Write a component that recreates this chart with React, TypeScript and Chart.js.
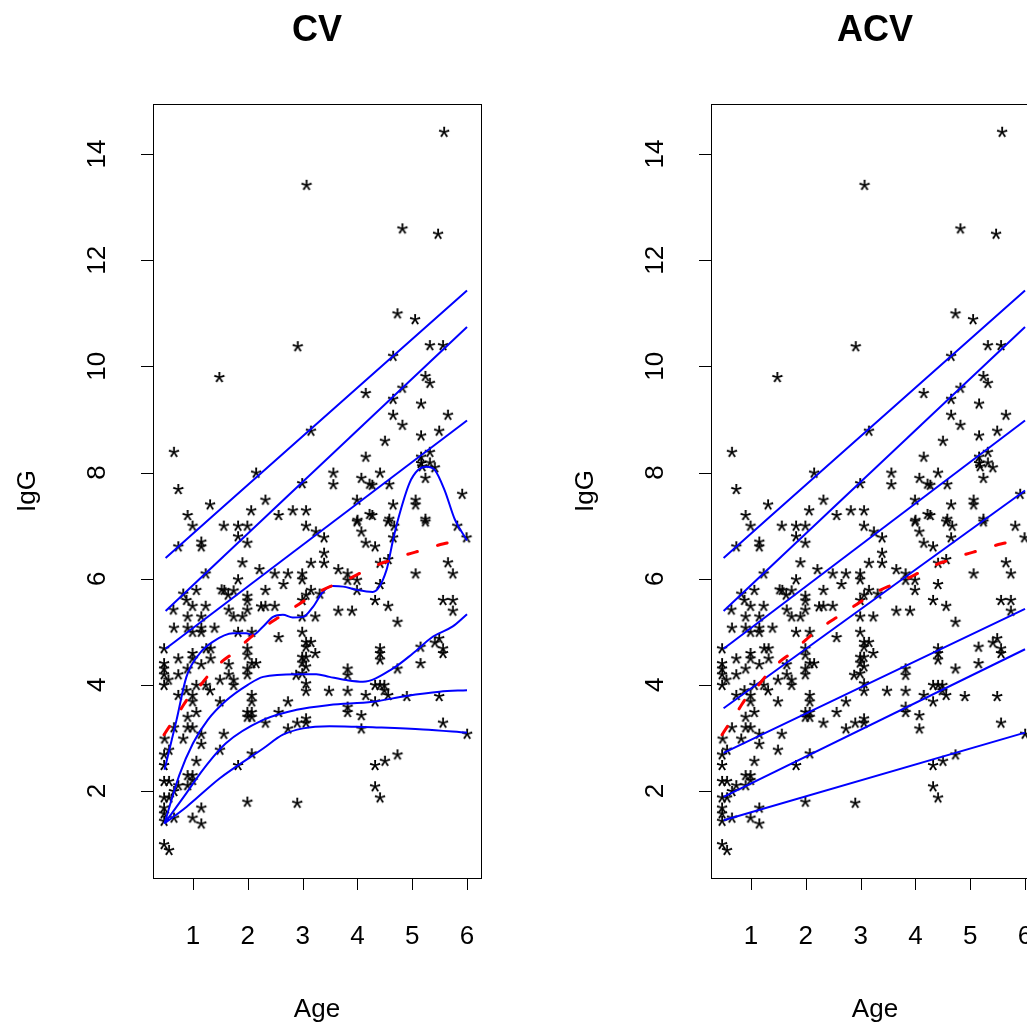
import React, { useEffect, useRef } from "react";
import { Chart, registerables } from "chart.js";
Chart.register(...registerables);

// ---------- data ----------
const AGE = [
  5.58, 3.07, 4.82, 5.47, 2.91, 4.73, 5.05, 1.48,
  0.65, 0.73, 0.9, 1.31, 2.15, 2.06,
  4.15, 3.15, 4.15, 3.56, 3.56, 4.07, 4.22, 2.99, 2.32, 2.56, 2.82, 3.06, 3.99, 4.0, 4.22,
  4.65, 5.32, 5.56, 5.24, 5.32, 4.82, 4.65, 5.16, 4.65, 5.65, 4.82, 5.49, 4.5, 5.16, 5.16, 5.32, 5.16, 5.32, 5.41, 5.24, 5.18, 4.41, 4.27, 4.58, 5.91, 5.06, 5.06, 4.65, 4.27, 4.58, 5.24,
  0.99, 1.56, 1.82, 1.99, 1.15, 1.15, 0.73, 1.82, 1.99, 1.9, 2.21, 1.23, 1.82,
  0.82, 1.06, 1.52, 1.57, 1.74, 1.64, 1.99, 1.99, 0.88, 0.99, 1.23, 0.64, 0.9, 1.15, 1.65, 1.74, 1.9, 1.99, 2.24,
  0.65, 0.9, 1.15, 1.39, 0.99, 1.15, 1.82, 2.07,
  0.47, 1.24, 1.32, 1.99, 1.99, 0.99, 0.99, 0.73, 0.47, 0.47, 1.32, 1.15, 1.65, 2.07, 2.15, 1.99,
  0.9, 0.73, 0.47, 0.55, 0.47, 1.65, 1.74, 1.74, 1.49, 1.99, 1.23, 1.06, 1.31, 0.88, 0.73, 0.99, 0.99, 1.49, 2.07, 2.07, 1.06, 1.99, 2.07, 1.99, 2.07, 0.9,
  3.06, 3.24, 3.39, 3.99, 4.07, 4.15, 3.39, 3.39, 3.15, 3.65, 3.82, 3.82, 3.99, 2.49, 2.73, 2.99, 2.99, 2.65, 2.32, 3.15, 3.99, 3.06, 3.31, 2.99, 2.32, 2.49, 3.65, 3.9, 2.99, 3.23,
  2.56, 2.99, 3.06, 3.15, 3.06, 3.23, 2.99, 3.06, 2.99, 3.06, 2.99, 2.88, 3.06, 3.06, 3.82, 3.82, 3.48, 3.82, 4.15, 2.73, 2.56, 3.82, 3.82, 4.07, 3.06,
  4.56, 4.67, 5.24, 5.82, 5.99, 4.65, 4.32, 4.41, 4.56, 5.65, 5.74, 5.06, 4.41, 4.32, 4.56, 5.56, 5.74, 5.74, 4.73, 4.41, 4.41, 4.41, 5.15, 5.41, 5.49, 5.56, 5.56, 5.15, 4.73, 4.32, 4.41, 4.49, 4.49, 4.56, 4.9, 5.49, 4.32,
  0.65, 0.9, 0.99, 1.15, 1.56, 0.82, 0.48, 1.15, 1.49, 0.56, 0.47, 1.06, 0.47, 2.07, 1.82, 0.9, 0.99, 0.99, 0.47, 0.56, 0.73, 0.9, 0.65, 0.47, 0.56, 1.99, 1.15, 0.47, 0.47, 0.65, 0.99, 1.15, 0.47, 0.47, 0.56,
  2.32, 2.73, 2.9, 3.06, 4.07, 2.9, 4.32, 5.56, 6.0, 4.73, 4.5, 4.41, 4.32,
];
const IGG = [
  14.42, 13.42, 12.6, 12.5, 10.38, 11.0, 10.89, 9.8,
  8.39, 7.69, 7.2, 7.4, 8.0, 7.29,
  9.5, 8.79, 8.3, 8.0, 7.78, 7.9, 7.79, 7.8, 7.49, 7.2, 7.29, 7.29, 7.49, 7.11, 7.22,
  10.2, 10.4, 10.4, 9.82, 9.69, 9.6, 9.39, 9.3, 9.09, 9.09, 8.9, 8.79, 8.6, 8.7, 8.3, 8.39, 8.18, 8.19, 8.1, 7.9, 8.12, 8.0, 7.77, 7.78, 7.6, 7.49, 7.4, 7.4, 7.2, 7.13, 7.13,
  7.0, 7.0, 7.0, 7.0, 6.7, 6.61, 6.61, 6.8, 6.68, 6.31, 6.18, 6.1, 5.99,
  5.72, 5.79, 5.8, 5.79, 5.78, 5.7, 5.68, 5.59, 5.6, 5.49, 5.49, 5.42, 5.29, 5.29, 5.42, 5.29, 5.29, 5.42, 5.48,
  5.08, 5.08, 5.08, 5.08, 5.0, 5.0, 5.0, 5.0,
  4.69, 4.69, 4.69, 4.69, 4.57, 4.6, 4.5, 4.5, 4.41, 4.31, 4.5, 4.39, 4.39, 4.41, 4.41, 4.31,
  4.31, 4.2, 4.2, 4.1, 4.0, 4.2, 4.1, 4.0, 4.1, 4.2, 4.0, 4.0, 3.9, 3.9, 3.81, 3.81, 3.69, 3.69, 3.81, 3.69, 3.49, 3.49, 3.49, 3.4, 3.4, 3.4,
  7.0, 6.89, 6.78, 7.08, 6.89, 6.68, 6.49, 6.3, 6.3, 6.18, 6.1, 5.98, 5.98, 6.1, 6.1, 6.1, 5.99, 5.9, 5.79, 5.79, 5.79, 5.7, 5.72, 5.6, 5.49, 5.49, 5.4, 5.4, 5.29, 5.29,
  4.9, 5.0, 4.81, 4.81, 4.72, 4.6, 4.53, 4.53, 4.42, 4.35, 4.22, 4.19, 4.03, 3.89, 4.31, 4.19, 3.89, 3.89, 3.81, 3.69, 3.49, 3.59, 3.49, 3.43, 3.37,
  7.08, 7.0, 7.08, 7.0, 6.78, 6.78, 6.61, 6.3, 6.37, 6.31, 6.1, 6.1, 5.9, 5.6, 5.49, 5.6, 5.6, 5.4, 5.19, 4.69, 4.6, 4.48, 4.72, 4.8, 4.88, 4.69, 4.6, 4.41, 4.31, 4.0, 4.0, 4.0, 3.9, 3.81, 3.79, 3.79, 3.69,
  3.2, 3.2, 3.2, 3.08, 3.08, 2.99, 2.99, 2.89, 2.78, 2.78, 2.69, 2.57, 2.49, 2.71, 2.49, 2.3, 2.3, 2.21, 2.19, 2.19, 2.11, 2.11, 2.0, 1.88, 1.88, 1.8, 1.69, 1.69, 1.58, 1.5, 1.5, 1.39, 1.44, 1.0, 0.89,
  3.29, 3.18, 3.29, 3.29, 3.18, 1.78, 2.49, 3.29, 3.08, 2.69, 2.57, 1.88, 2.09,
];

const X_TICKS = [1, 2, 3, 4, 5, 6];
const Y_TICKS = [2, 4, 6, 8, 10, 12, 14];

// straight upper centile lines (both panels), at age 0.5 and 6
const LINE_X = [0.5, 6.0];
const UP1 = [6.39, 11.43];
const UP2 = [5.39, 10.74];
const UP3 = [4.68, 8.98];

// median (red dashed)
const MED_X = [0.47, 0.79, 0.91, 1.14, 1.29, 1.53, 1.71, 1.96, 2.13, 2.41, 2.58, 2.89, 3.07, 3.37, 3.57, 3.89, 4.08, 4.41, 4.62, 4.92, 5.16, 5.47, 5.7, 6.0];
const MED_Y = [3.06, 3.56, 3.75, 4.0, 4.19, 4.44, 4.58, 4.81, 4.96, 5.17, 5.28, 5.49, 5.61, 5.79, 5.88, 6.02, 6.12, 6.28, 6.35, 6.46, 6.53, 6.63, 6.69, 6.8];

// CV: wiggly upper-quartile curve
const CV_Q3_X = [0.48, 0.7, 0.88, 1.12, 1.36, 1.73, 1.97, 2.09, 2.28, 2.46, 2.64, 2.82, 3.01, 3.19, 3.37, 3.55, 3.74, 3.98, 4.28, 4.53, 4.65, 4.74, 4.95, 5.11, 5.26, 5.41, 5.59, 5.78, 6.0];
const CV_Q3_Y = [2.4, 3.34, 4.15, 4.59, 4.81, 4.97, 4.97, 4.94, 5.1, 5.28, 5.32, 5.27, 5.28, 5.47, 5.75, 5.86, 5.85, 5.79, 5.75, 6.16, 6.73, 7.11, 7.8, 8.05, 8.11, 8.05, 7.67, 7.11, 6.72];
// CV: lower curves
const CV_L1_X = [0.48, 0.75, 1.0, 1.27, 1.6, 2.0, 2.28, 2.89, 3.25, 3.49, 3.8, 4.1, 4.65, 5.01, 5.38, 5.74, 6.0];
const CV_L1_Y = [1.39, 2.3, 2.9, 3.34, 3.7, 4.0, 4.15, 4.2, 4.2, 4.15, 4.09, 4.06, 4.31, 4.59, 4.91, 5.1, 5.33];
const CV_L2_X = [0.48, 0.88, 1.18, 1.6, 2.28, 2.89, 3.49, 4.28, 4.89, 5.5, 6.0];
const CV_L2_Y = [1.39, 1.96, 2.4, 2.9, 3.34, 3.53, 3.62, 3.68, 3.79, 3.87, 3.9];
const CV_L3_X = [0.48, 0.88, 1.49, 2.28, 2.64, 3.01, 3.49, 3.98, 4.28, 5.2, 6.0];
const CV_L3_Y = [1.39, 1.7, 2.24, 2.8, 3.06, 3.18, 3.22, 3.21, 3.2, 3.16, 3.1];

// ACV: straight centile lines below the top three
const ACV_Q3 = [3.56, 7.66];
const ACV_L1 = [2.72, 5.43];
const ACV_L2 = [1.89, 4.67];
const ACV_L3 = [1.45, 3.1];

// ---------- helpers ----------
const pts = (xs: number[], ys: number[]) => xs.map((x, i) => ({ x, y: ys[i] }));
const FONT = '"Liberation Sans", Arial, Helvetica, sans-serif';
const BLUE = "#0000FF";
const RED = "#FF0000";

function makeStar(): HTMLCanvasElement {
  const c = document.createElement("canvas");
  c.width = 24;
  c.height = 24;
  const g = c.getContext("2d")!;
  g.font = `30px ${FONT}`;
  g.fillStyle = "#000";
  g.textAlign = "center";
  g.textBaseline = "alphabetic";
  const m = g.measureText("*");
  const base = 12 + (m.actualBoundingBoxAscent - m.actualBoundingBoxDescent) / 2;
  g.fillText("*", 12, base);
  return c;
}

function blueLine(xs: number[], ys: number[]) {
  return {
    type: "line" as const,
    data: pts(xs, ys),
    borderColor: BLUE,
    borderWidth: 2,
    pointRadius: 0,
    fill: false,
    cubicInterpolationMode: "monotone" as const,
    order: 1,
  };
}

const framePlugin = {
  id: "rframe",
  afterDraw(chart: any, _args: any, opts: any) {
    const { ctx, chartArea: a, scales } = chart;
    const xs = scales.x;
    const ys = scales.y;
    ctx.save();
    ctx.strokeStyle = "#000";
    ctx.lineWidth = 1;
    ctx.strokeRect(Math.round(a.left) + 0.5, Math.round(a.top) + 0.5, Math.round(a.right - a.left), Math.round(a.bottom - a.top));
    ctx.beginPath();
    const TL = 12;
    X_TICKS.forEach((v) => {
      const px = Math.round(xs.getPixelForValue(v)) + 0.5;
      ctx.moveTo(px, a.bottom);
      ctx.lineTo(px, a.bottom + TL);
    });
    Y_TICKS.forEach((v) => {
      const py = Math.round(ys.getPixelForValue(v)) + 0.5;
      ctx.moveTo(a.left, py);
      ctx.lineTo(a.left - TL, py);
    });
    ctx.stroke();
    ctx.fillStyle = "#000";
    ctx.textAlign = "center";
    ctx.textBaseline = "middle";
    ctx.font = `26px ${FONT}`;
    X_TICKS.forEach((v) => ctx.fillText(String(v), xs.getPixelForValue(v), a.bottom + 59));
    Y_TICKS.forEach((v) => {
      ctx.save();
      ctx.translate(a.left - 55, ys.getPixelForValue(v));
      ctx.rotate(-Math.PI / 2);
      ctx.fillText(String(v), 0, 0);
      ctx.restore();
    });
    const cx = (a.left + a.right) / 2;
    const cy = (a.top + a.bottom) / 2;
    ctx.fillText("Age", cx, a.bottom + 132);
    ctx.save();
    ctx.translate(a.left - 125, cy);
    ctx.rotate(-Math.PI / 2);
    ctx.fillText("IgG", 0, 0);
    ctx.restore();
    ctx.font = `bold 36px ${FONT}`;
    ctx.fillText(opts.title, cx, 31);
    ctx.restore();
  },
};

function Panel({ title, lines }: { title: string; lines: any[] }) {
  const ref = useRef<HTMLCanvasElement>(null);
  useEffect(() => {
    const star = makeStar();
    const chart = new Chart(ref.current!, {
      type: "scatter",
      data: {
        datasets: [
          ...lines,
          {
            type: "line",
            data: pts(MED_X, MED_Y),
            borderColor: RED,
            borderWidth: 3,
            borderDash: [10, 21],
            borderCapStyle: "round",
            pointRadius: 0,
            fill: false,
            cubicInterpolationMode: "monotone",
            order: 0,
          },
          {
            type: "scatter",
            data: pts(AGE, IGG),
            pointStyle: star as any,
            pointRadius: 12,
            order: 10,
          },
        ],
      } as any,
      options: {
        responsive: false,
        animation: false,
        events: [],
        layout: { padding: { left: 0, right: 77, top: 104, bottom: 0 } },
        plugins: { legend: { display: false }, tooltip: { enabled: false }, rframe: { title } } as any,
        scales: {
          x: {
            type: "linear",
            min: 0.27,
            max: 6.255,
            grid: { display: false },
            border: { display: false },
            ticks: { display: false },
            afterFit: (s: any) => { s.height = 147; },
          },
          y: {
            type: "linear",
            min: 0.361,
            max: 14.942,
            grid: { display: false },
            border: { display: false },
            ticks: { display: false },
            afterFit: (s: any) => { s.width = 153; },
          },
        },
      },
      plugins: [framePlugin],
    });
    return () => chart.destroy();
  }, []);
  return <canvas ref={ref} width={558} height={1025} style={{ width: 558, height: 1025, display: "block" }} />;
}

export default function App() {
  const cvLines = [
    blueLine(LINE_X, UP1),
    blueLine(LINE_X, UP2),
    blueLine(LINE_X, UP3),
    blueLine(CV_Q3_X, CV_Q3_Y),
    blueLine(CV_L1_X, CV_L1_Y),
    blueLine(CV_L2_X, CV_L2_Y),
    blueLine(CV_L3_X, CV_L3_Y),
  ];
  const acvLines = [
    blueLine(LINE_X, UP1),
    blueLine(LINE_X, UP2),
    blueLine(LINE_X, UP3),
    blueLine(LINE_X, ACV_Q3),
    blueLine(LINE_X, ACV_L1),
    blueLine(LINE_X, ACV_L2),
    blueLine(LINE_X, ACV_L3),
  ];
  return (
    <div style={{ position: "fixed", left: 0, top: 0, width: 1027, height: 1025, overflow: "hidden", background: "#fff" }}>
      <div style={{ position: "absolute", left: 0, top: 0 }}>
        <Panel title="CV" lines={cvLines} />
      </div>
      <div style={{ position: "absolute", left: 558, top: 0 }}>
        <Panel title="ACV" lines={acvLines} />
      </div>
    </div>
  );
}
